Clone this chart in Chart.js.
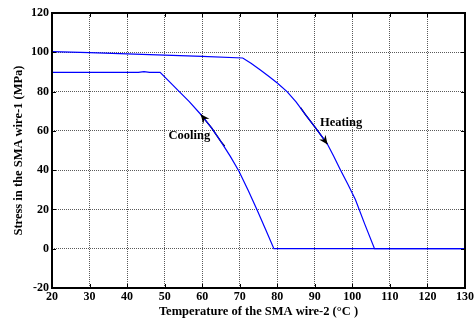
<!DOCTYPE html>
<html>
<head>
<meta charset="utf-8">
<script src="https://cdn.jsdelivr.net/npm/chart.js@4"></script>
<style>
  html, body { margin: 0; padding: 0; background: #fff; }
  #wrap { width: 476px; height: 320px; }
</style>
</head>
<body>
<div id="wrap"><canvas id="c"></canvas></div>
<script>
// Stress–temperature response of the SMA wire pair
const heatingTemp   = [20, 30, 40, 50, 60, 70.8, 73, 75.5, 77.8, 80, 82.6, 85, 87.5, 90.2, 93.2, 95, 96.8, 98.8, 100.8, 103.3, 105.9, 130];
const heatingStress = [100.3, 99.8, 99.2, 98.6, 97.9, 97.1, 94.4, 91.0, 87.7, 84.4, 80, 74.8, 68.3, 61.5, 53.8, 47.2, 40.2, 32.8, 25, 12.5, 0, 0];

const coolingTemp   = [20, 43, 44.5, 46, 48.8, 51, 53.9, 56.5, 59.7, 62.5, 65, 67.5, 69.8, 72.3, 74.6, 76.9, 79.1, 130];
const coolingStress = [89.8, 89.8, 90.2, 89.8, 89.8, 85.6, 80, 75, 68.2, 61.5, 54.5, 47, 39.4, 29.5, 19.8, 9.8, 0, 0];

// Direction arrows drawn along each branch (last point is the arrow tip)
const coolingArrowTemp   = [66, 65, 62.5, 59.6];
const coolingArrowStress = [52.2, 54.5, 61.5, 68.4];
const heatingArrowTemp   = [86.2, 87.5, 90.2, 93.4];
const heatingArrowStress = [71.8, 68.3, 61.5, 53.1];

// Axis ticks
const xTicks = [20, 30, 40, 50, 60, 70, 80, 90, 100, 110, 120, 130];
const yTicks = [-20, 0, 20, 40, 60, 80, 100, 120];

const toPoints = (xs, ys) => xs.map((v, i) => ({ x: v, y: ys[i] }));

const FONT_FAMILY = '"Liberation Serif", "Times New Roman", serif';

const framePlugin = {
  id: 'framePlugin',
  afterDatasetsDraw(chart, args, opts) {
    const { ctx, chartArea: a, scales: { x, y } } = chart;
    ctx.save();

    // inward tick marks on all four sides
    ctx.strokeStyle = '#000';
    ctx.lineWidth = 1;
    ctx.beginPath();
    xTicks.forEach(v => {
      const px = Math.round(x.getPixelForValue(v)) + 0.5;
      ctx.moveTo(px, a.bottom); ctx.lineTo(px, a.bottom - 4);
      ctx.moveTo(px, a.top); ctx.lineTo(px, a.top + 4);
    });
    yTicks.forEach(v => {
      const py = Math.round(y.getPixelForValue(v)) + 0.5;
      ctx.moveTo(a.left, py); ctx.lineTo(a.left + 4, py);
      ctx.moveTo(a.right, py); ctx.lineTo(a.right - 4, py);
    });
    ctx.stroke();

    // box
    ctx.lineWidth = 2;
    ctx.strokeRect(a.left, a.top, a.right - a.left, a.bottom - a.top);

    // arrowheads
    ctx.fillStyle = '#000';
    opts.arrowDatasets.forEach(idx => {
      const pts = chart.getDatasetMeta(idx).data;
      const p = pts[pts.length - 1], q = pts[pts.length - 2];
      const ang = Math.atan2(p.y - q.y, p.x - q.x);
      const L = 9, W = 4, N = 6;
      ctx.save();
      ctx.translate(p.x, p.y);
      ctx.rotate(ang);
      ctx.beginPath();
      ctx.moveTo(0, 0);
      ctx.lineTo(-L, -W);
      ctx.lineTo(-N, 0);
      ctx.lineTo(-L, W);
      ctx.closePath();
      ctx.fill();
      ctx.restore();
    });

    // branch labels
    ctx.font = 'bold 12.5px ' + FONT_FAMILY;
    ctx.textAlign = 'center';
    ctx.textBaseline = 'middle';
    opts.labels.forEach(l => {
      ctx.fillText(l.text, x.getPixelForValue(l.x), y.getPixelForValue(l.y));
    });
    ctx.restore();
  }
};

const tickFont = { family: FONT_FAMILY, size: 12, weight: 'bold' };
const titleFont = { family: FONT_FAMILY, size: 12.5, weight: 'bold' };

new Chart(document.getElementById('c'), {
  type: 'scatter',
  data: {
    datasets: [
      { data: toPoints(heatingTemp, heatingStress), borderColor: '#0000ff', borderWidth: 1.2, showLine: true, pointRadius: 0 },
      { data: toPoints(coolingTemp, coolingStress), borderColor: '#0000ff', borderWidth: 1.2, showLine: true, pointRadius: 0 },
      { data: toPoints(coolingArrowTemp, coolingArrowStress), borderColor: '#000', borderWidth: 1.3, showLine: true, pointRadius: 0 },
      { data: toPoints(heatingArrowTemp, heatingArrowStress), borderColor: '#000', borderWidth: 1.3, showLine: true, pointRadius: 0 }
    ]
  },
  options: {
    responsive: true,
    maintainAspectRatio: false,
    animation: false,
    events: [],
    layout: { padding: { top: 13, right: 9, left: 0, bottom: 0 } },
    plugins: {
      legend: { display: false },
      tooltip: { enabled: false },
      framePlugin: {
        arrowDatasets: [2, 3],
        labels: [
          { text: 'Cooling', x: 56.6, y: 57.5 },
          { text: 'Heating', x: 97, y: 64.2 }
        ]
      }
    },
    scales: {
      x: {
        type: 'linear',
        min: 20, max: 130,
        afterBuildTicks: s => { s.ticks = xTicks.map(v => ({ value: v })); },
        afterFit: s => { s.height = 32; },
        ticks: { font: tickFont, color: '#000', padding: 2, maxRotation: 0, autoSkip: false },
        grid: { color: '#5a5a5a', lineWidth: 1, drawTicks: false },
        border: { display: false, dash: [1, 1] },
        title: {
          display: true,
          text: 'Temperature of the SMA wire-2 (°C )',
          font: titleFont,
          color: '#000',
          padding: { top: 0, bottom: 1 }
        }
      },
      y: {
        type: 'linear',
        min: -20, max: 120,
        afterBuildTicks: s => { s.ticks = yTicks.map(v => ({ value: v })); },
        afterFit: s => { s.width = 52; },
        ticks: { font: tickFont, color: '#000', padding: 3, autoSkip: false },
        grid: { color: '#5a5a5a', lineWidth: 1, drawTicks: false },
        border: { display: false, dash: [1, 1] },
        title: {
          display: true,
          text: 'Stress in the SMA wire-1 (MPa)',
          font: titleFont,
          color: '#000',
          padding: { top: 11, bottom: 0 }
        }
      }
    }
  },
  plugins: [framePlugin]
});
</script>
</body>
</html>
